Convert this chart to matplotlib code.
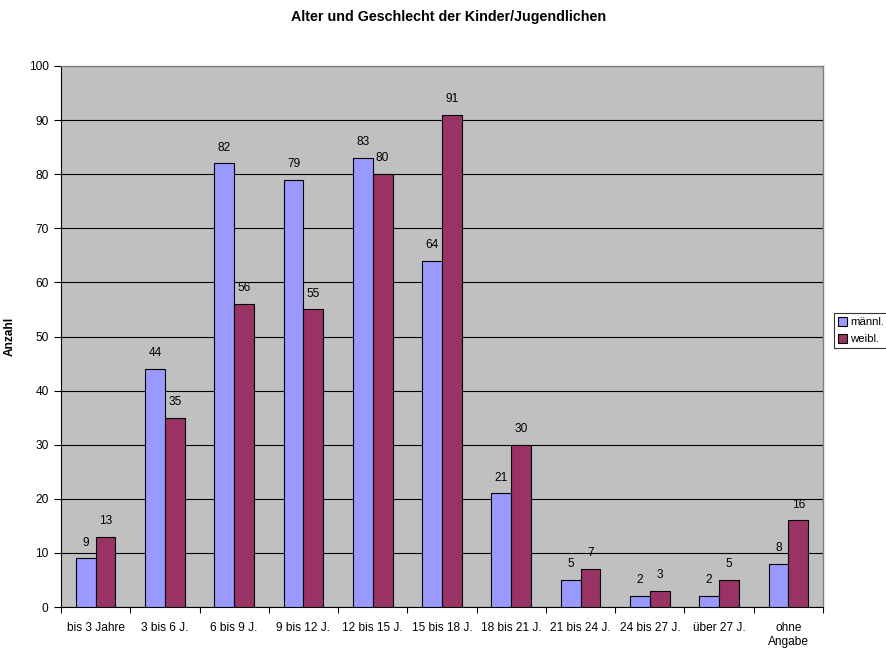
import matplotlib.pyplot as plt
import numpy as np

plt.rcParams['font.family'] = ['Liberation Sans', 'DejaVu Sans']

kategorien = ['bis 3 Jahre', '3 bis 6 J.', '6 bis 9 J.', '9 bis 12 J.', '12 bis 15 J.',
              '15 bis 18 J.', '18 bis 21 J.', '21 bis 24 J.', '24 bis 27 J.', 'über 27 J.',
              'ohne\nAngabe']
maennl = [9, 44, 82, 79, 83, 64, 21, 5, 2, 2, 8]
weibl = [13, 35, 56, 55, 80, 91, 30, 7, 3, 5, 16]

fs = 8.6

fig = plt.figure(figsize=(8.86, 6.49), dpi=100)
ax = fig.add_axes([61/886, 1-607/649, (823-61)/886, (607-66)/649])
ax.set_facecolor('#C0C0C0')

x = np.arange(len(kategorien))
w = 1/3.5
b1 = ax.bar(x - w/2, maennl, w, color='#9999FF', edgecolor='black', linewidth=0.8, label='männl.', zorder=3)
b2 = ax.bar(x + w/2, weibl, w, color='#993366', edgecolor='black', linewidth=0.8, label='weibl.', zorder=3)

for bars, vals in [(b1, maennl), (b2, weibl)]:
    for r, v in zip(bars, vals):
        ax.text(r.get_x() + r.get_width()/2, v + 1.8, str(v), ha='center', va='bottom', fontsize=fs)

ax.set_xlim(-0.5, len(kategorien) - 0.5)
ax.set_ylim(0, 100)
ax.set_yticks(range(0, 101, 10))
ax.yaxis.grid(True, color='black', linewidth=0.8, zorder=0)
ax.set_axisbelow(True)

ax.set_xticks(x)
ax.set_xticklabels(kategorien, fontsize=fs)
ax.set_xticks(np.arange(-0.5, len(kategorien)), minor=True)
ax.tick_params(axis='x', which='major', length=0, pad=11)
ax.tick_params(axis='x', which='minor', length=4, width=0.8, direction='out')
ax.tick_params(axis='y', labelsize=fs, length=5, width=0.8, direction='out', pad=4)

for s in ['top', 'right']:
    ax.spines[s].set_color('#808080')
    ax.spines[s].set_linewidth(1.0)
for s in ['left', 'bottom']:
    ax.spines[s].set_color('black')
    ax.spines[s].set_linewidth(0.8)

ax.set_ylabel('Anzahl', fontsize=fs, fontweight='bold')
ax.yaxis.set_label_coords((16-61)/762, 0.5)
fig.text(449/886, 1-17/649, 'Alter und Geschlecht der Kinder/Jugendlichen', ha='center', va='center',
         fontsize=10.3, fontweight='bold')

leg = fig.legend(loc='upper left', bbox_to_anchor=(834/886, 1-313/649), fontsize=8.2, frameon=True,
                 fancybox=False, edgecolor='black', handlelength=0.8, handleheight=0.8,
                 handletextpad=0.25, borderpad=0.35, labelspacing=0.6, borderaxespad=0)
leg.get_frame().set_linewidth(0.8)

fig.savefig('out.png', dpi=100)
